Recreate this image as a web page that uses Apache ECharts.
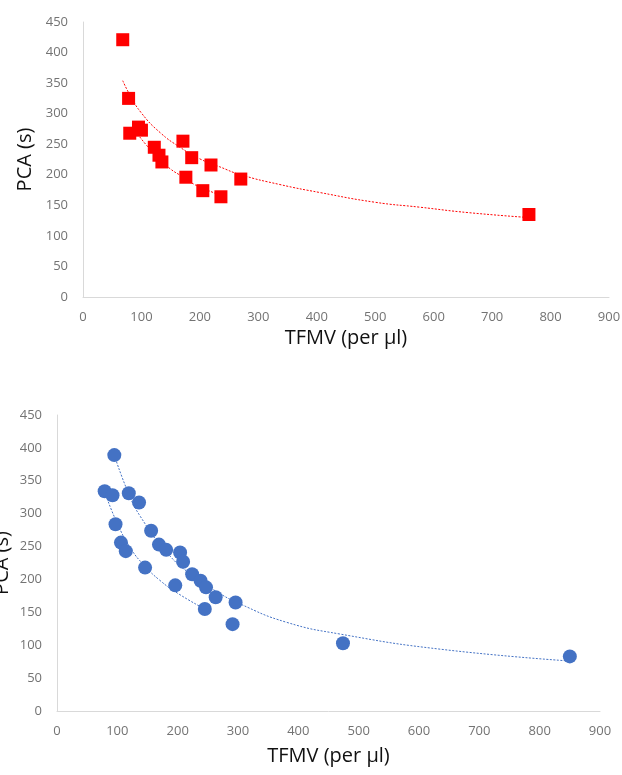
<!DOCTYPE html>
<html>
<head>
<meta charset="utf-8">
<script src="https://cdn.jsdelivr.net/npm/echarts@6/dist/echarts.min.js"></script>
<style>
  html, body { margin: 0; padding: 0; background: #fff; }
  #chart { width: 622px; height: 775px; }
</style>
</head>
<body>
<div id="chart"></div>
<script>
// top panel (red squares)
var topX = [68, 78, 80, 95, 100, 122, 130, 135, 171, 176, 186, 205, 219, 236, 270, 763];
var topY = [421, 325, 268, 278, 273, 245, 232, 221, 255, 196, 228, 174, 216, 164, 193, 135];
// trend lines
var topFitAX = [68, 80, 100, 132, 166, 200, 234, 270, 337, 405, 500, 576, 660, 763];
var topFitAY = [354, 331, 301, 269, 245, 226, 213, 200, 184, 171, 155, 147, 138, 130];
var topFitBX = [90, 109, 130, 149, 170, 189, 210, 236];
var topFitBY = [271, 248, 227, 210, 197, 185, 176, 166];

// bottom panel (blue circles)
var botX = [95, 79, 92, 119, 136, 97, 106, 114, 156, 169, 181, 146, 204, 209, 196, 224, 238, 247, 245, 263, 296, 291, 474, 850];
var botY = [389, 334, 328, 331, 317, 284, 256, 243, 274, 253, 245, 218, 241, 227, 191, 208, 198, 188, 155, 173, 165, 132, 103, 83];
var botFitAX = [95, 118, 138, 182, 224, 260, 303, 380, 469, 635, 850];
var botFitAY = [389, 332, 296, 241, 206, 184, 163, 135, 117, 94, 76];
var botFitBX = [79, 100, 123, 145, 170, 200, 245];
var botFitBY = [333, 285, 246, 221, 199, 179, 155];

var xTicks = [0, 100, 200, 300, 400, 500, 600, 700, 800, 900];
var yTicks = [0, 50, 100, 150, 200, 250, 300, 350, 400, 450];

function pairs(xs, ys) {
    return xs.map(function (x, i) { return [x, ys[i]]; });
}

var font = 'Open Sans';
var tickStyle = { color: '#737373', fontSize: 13, fontFamily: font };
var nameStyle = { color: '#111', fontSize: 20, fontFamily: font };

function xAx(idx, gap) {
    return {
        gridIndex: idx, type: 'value', min: xTicks[0], max: xTicks[xTicks.length - 1], interval: 100,
        name: 'TFMV (per μl)', nameLocation: 'middle', nameGap: gap, nameTextStyle: nameStyle,
        nameMoveOverlap: false,
        axisLine: { lineStyle: { color: '#d9d9d9', width: 1 } },
        axisTick: { show: false }, splitLine: { show: false },
        axisLabel: Object.assign({ margin: 14 }, tickStyle)
    };
}
function yAx(idx, gap) {
    return {
        gridIndex: idx, type: 'value', min: yTicks[0], max: yTicks[yTicks.length - 1], interval: 50,
        name: 'PCA (s)', nameLocation: 'middle', nameGap: gap, nameTextStyle: nameStyle,
        nameMoveOverlap: false,
        axisLine: { show: true, lineStyle: { color: '#d9d9d9', width: 1 } },
        axisTick: { show: false }, splitLine: { show: false },
        axisLabel: Object.assign({ margin: 15 }, tickStyle)
    };
}
function fit(idx, xs, ys, color) {
    return {
        type: 'line', xAxisIndex: idx, yAxisIndex: idx, data: pairs(xs, ys),
        smooth: true, showSymbol: false, silent: true, z: 1,
        lineStyle: { color: color, width: 1, type: [2, 1.5] }
    };
}

var myChart = echarts.init(document.getElementById('chart'));
var option = {
    animation: false,
    grid: [
        { left: 83, top: 22, width: 526, height: 275, outerBoundsMode: 'none' },
        { left: 57, top: 415, width: 543, height: 296, outerBoundsMode: 'none' }
    ],
    xAxis: [xAx(0, 31), xAx(1, 35)],
    yAxis: [yAx(0, 48), yAx(1, 45)],
    series: [
        fit(0, topFitAX, topFitAY, '#ff0000'),
        fit(0, topFitBX, topFitBY, '#ff0000'),
        {
            type: 'scatter', xAxisIndex: 0, yAxisIndex: 0, data: pairs(topX, topY),
            symbol: 'rect', symbolSize: 13, z: 3,
            itemStyle: { color: '#ff0000', opacity: 1 }
        },
        fit(1, botFitAX, botFitAY, '#4472c4'),
        fit(1, botFitBX, botFitBY, '#4472c4'),
        {
            type: 'scatter', xAxisIndex: 1, yAxisIndex: 1, data: pairs(botX, botY),
            symbol: 'circle', symbolSize: 14, z: 3,
            itemStyle: { color: '#4472c4', opacity: 1 }
        }
    ]
};
myChart.setOption(option);
</script>
</body>
</html>
